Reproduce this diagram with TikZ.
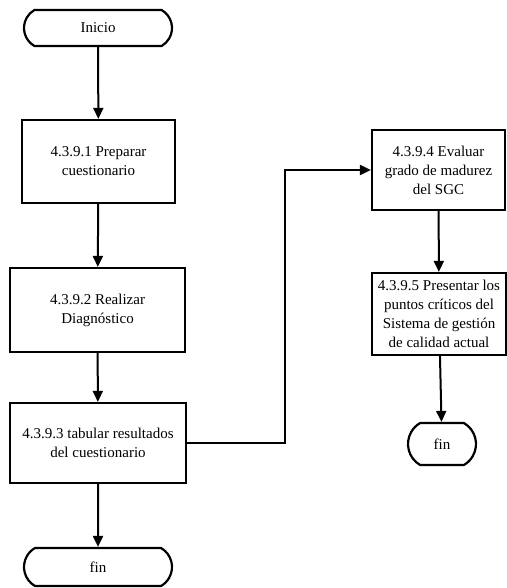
\documentclass[tikz,border=0pt]{standalone}
\usepackage{fontspec}
\setmainfont{Liberation Serif}
\usetikzlibrary{arrows.meta,shapes.misc}
\tikzset{>={Triangle[length=11pt,width=10pt]},every node/.style={font=\fontsize{15}{19}\selectfont},
 paso/.style={draw,line width=2.2pt,align=center,inner sep=2pt},
 term/.style={draw,line width=2.2pt,rounded rectangle,rounded rectangle arc length=120,inner sep=2pt},
 flujo/.style={draw,line width=2pt,->}}

\begin{document}
\begin{tikzpicture}[x=1pt,y=-1pt]
\useasboundingbox (0,0) rectangle (506,588);
\node[term,minimum width=152pt,minimum height=36pt] (inicio) at (98,28) {Inicio};
\node[paso,minimum width=153pt,minimum height=83pt] (prep) at (98.5,161.5) {4.3.9.1 Preparar\\cuestionario};
\node[paso,minimum width=175pt,minimum height=84pt] (diag) at (97.5,310) {4.3.9.2 Realizar\\Diagnóstico};
\node[paso,minimum width=176pt,minimum height=80pt] (tab) at (98,443) {4.3.9.3 tabular resultados\\del cuestionario};
\node[term,minimum width=152pt,minimum height=38pt] (fin) at (98,567) {fin};
\node[paso,minimum width=133pt,minimum height=80pt] (eval) at (438.5,170) {4.3.9.4 Evaluar\\grado de madurez\\del SGC};
\node[paso,minimum width=134pt,minimum height=82pt] (pres) at (439,314) {4.3.9.5 Presentar los\\puntos críticos del\\Sistema de gestión\\de calidad actual};
\node[term,minimum width=72pt,minimum height=42pt] (finb) at (442,444) {fin};
\coordinate (codo) at (285,443);
\draw[flujo] (inicio)--(prep);
\draw[flujo] (prep)--(diag);
\draw[flujo] (diag)--(tab);
\draw[flujo] (tab)--(fin);
\draw[flujo] (tab.east)--(codo)|-(eval.west);
\draw[flujo] (eval)--(pres);
\draw[flujo] (pres)--(finb);
\end{tikzpicture}
\end{document}
